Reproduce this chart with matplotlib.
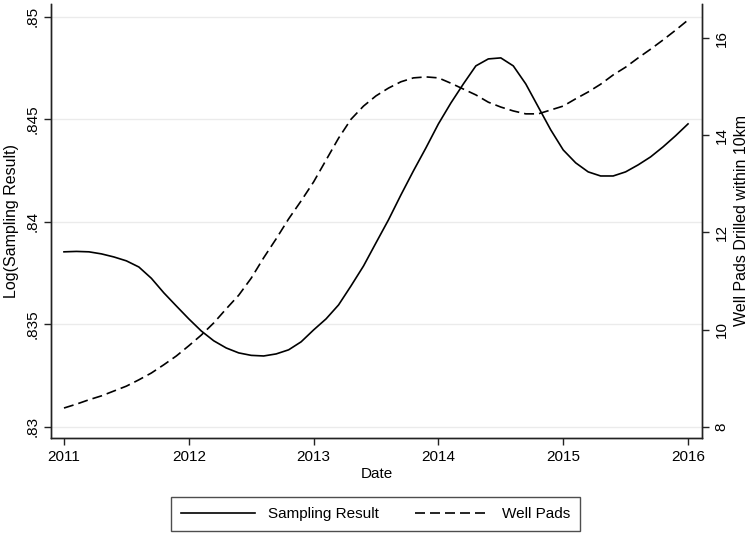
import numpy as np
import matplotlib
matplotlib.use("Agg")
import matplotlib.pyplot as plt

plt.rcParams['font.family'] = ['Liberation Sans', 'DejaVu Sans']
plt.rcParams['font.size'] = 11

# Smoothed series sampled every 0.1 year, 2011-2016
years = [2011.0, 2011.1, 2011.2, 2011.3, 2011.4, 2011.5, 2011.6, 2011.7, 2011.8, 2011.9,
         2012.0, 2012.1, 2012.2, 2012.3, 2012.4, 2012.5, 2012.6, 2012.7, 2012.8, 2012.9,
         2013.0, 2013.1, 2013.2, 2013.3, 2013.4, 2013.5, 2013.6, 2013.7, 2013.8, 2013.9,
         2014.0, 2014.1, 2014.2, 2014.3, 2014.4, 2014.5, 2014.6, 2014.7, 2014.8, 2014.9,
         2015.0, 2015.1, 2015.2, 2015.3, 2015.4, 2015.5, 2015.6, 2015.7, 2015.8, 2015.9,
         2016.0]

sampling_result = [.83854, .83856, .83854, .83844, .83829, .83810, .83780, .83725, .83654, .83590,
                   .83527, .83468, .83420, .83385, .83361, .83349, .83346, .83356, .83376, .83415,
                   .83473, .83527, .83595, .83688, .83785, .83898, .84010, .84132, .84249, .84361,
                   .84478, .84580, .84673, .84761, .84795, .84800, .84761, .84673, .84561, .84449,
                   .84351, .84288, .84244, .84224, .84224, .84244, .84278, .84317, .84366, .84420,
                   .84478]

well_pads = [8.39, 8.47, 8.56, 8.64, 8.74, 8.84, 8.97, 9.11, 9.28, 9.46,
             9.67, 9.89, 10.14, 10.43, 10.71, 11.06, 11.48, 11.87, 12.28, 12.65,
             13.04, 13.49, 13.94, 14.33, 14.60, 14.81, 14.97, 15.10, 15.18, 15.20,
             15.18, 15.07, 14.95, 14.83, 14.68, 14.58, 14.50, 14.44, 14.44, 14.52,
             14.60, 14.75, 14.89, 15.05, 15.24, 15.40, 15.59, 15.77, 15.96, 16.16,
             16.37]

left_ticks = [.83, .835, .84, .845, .85]
left_labels = ['.83', '.835', '.84', '.845', '.85']
right_ticks = [8, 10, 12, 14, 16]
x_ticks = [2011, 2012, 2013, 2014, 2015, 2016]

fig = plt.figure(figsize=(7.5, 5.37), dpi=100)
ax = fig.add_axes([0.068, 0.1844, 0.868, 0.8082])
ax2 = ax.twinx()

ax.plot(years, sampling_result, color='black', lw=1.2, label='Sampling Result')
ax2.plot(years, well_pads, color='black', lw=1.2, dashes=(6, 3), label='Well Pads')

ax.set_xlim(2010.896, 2016.112)
ax.set_ylim(.82946, .85063)
ax2.set_ylim(7.774, 16.70)

ax.set_xticks(x_ticks)
ax.set_xticklabels([str(y) for y in x_ticks])
ax.set_yticks(left_ticks)
ax.set_yticklabels(left_labels)
ax2.set_yticks(right_ticks)

ax.grid(axis='y', color='#ebebeb', lw=1.0)
ax.set_axisbelow(True)

for a in (ax, ax2):
    a.spines['top'].set_visible(False)
    for s in a.spines.values():
        s.set_linewidth(1.0)
        s.set_color('#222222')
    a.tick_params(length=5, width=1.0, color='#222222', labelsize=11)

ax.tick_params(axis='y', labelrotation=90, pad=3)
ax2.tick_params(axis='y', labelrotation=90, pad=4)
ax.tick_params(axis='x', pad=4)
for lab in ax.get_yticklabels() + ax2.get_yticklabels():
    lab.set_verticalalignment('center')

ax.set_xlabel('Date', labelpad=2)
ax.set_ylabel('Log(Sampling Result)', fontsize=11.5, labelpad=5)
ax2.set_ylabel('Well Pads Drilled within 10km', fontsize=11.5, labelpad=4)

h1, l1 = ax.get_legend_handles_labels()
h2, l2 = ax2.get_legend_handles_labels()
leg = fig.legend(h1 + h2, l1 + l2, loc='center', bbox_to_anchor=(0.5007, 0.0425),
                 ncol=2, frameon=True, fancybox=False, handlelength=4.9,
                 handletextpad=0.8, columnspacing=2.4, borderpad=0.65, fontsize=11)
leg.get_frame().set_edgecolor('#222222')
leg.get_frame().set_linewidth(1.0)

fig.savefig('out.png', dpi=100)
